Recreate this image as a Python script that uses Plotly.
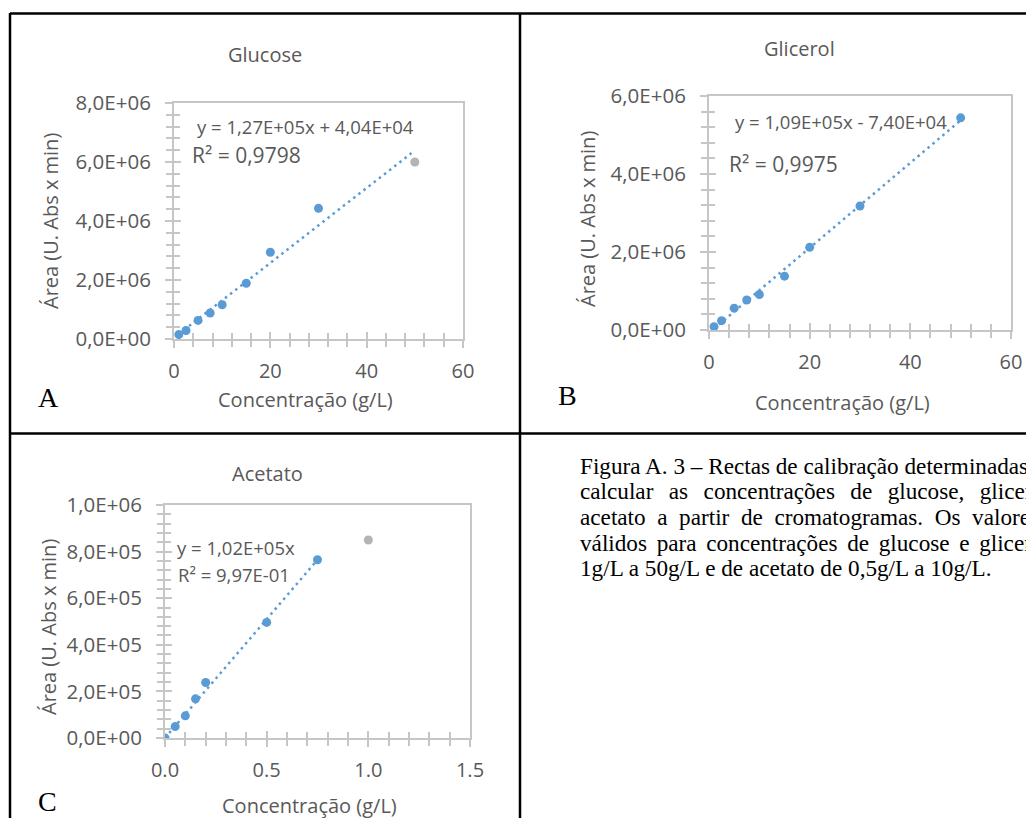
import plotly.graph_objects as go

# ---------------- data ----------------
GLU_X = [1, 2.5, 5, 7.5, 10, 15, 20, 30]
GLU_Y = [1.5e5, 2.9e5, 6.3e5, 8.8e5, 1.16e6, 1.89e6, 2.94e6, 4.43e6]
GLU_OUT_X = [50]
GLU_OUT_Y = [6.0e6]
GLU_SLOPE = 1.27e5
GLU_INTERCEPT = 4.04e4
GLU_TREND_X = [1, 49.3]

GLI_X = [1, 2.5, 5, 7.5, 10, 15, 20, 30, 50]
GLI_Y = [0.085e6, 0.24e6, 0.56e6, 0.77e6, 0.91e6, 1.38e6, 2.12e6, 3.18e6, 5.44e6]
GLI_SLOPE = 1.09e5
GLI_INTERCEPT = -7.40e4
GLI_TREND_X = [1, 50]

ACE_X = [0, 0.05, 0.1, 0.15, 0.2, 0.5, 0.75]
ACE_Y = [0, 4.9e4, 9.5e4, 1.68e5, 2.38e5, 4.96e5, 7.65e5]
ACE_OUT_X = [1.0]
ACE_OUT_Y = [8.5e5]
ACE_SLOPE = 1.02e6
ACE_INTERCEPT = 0
ACE_TREND_X = [0, 0.75]

GLU_YTICKS = [0, 2e6, 4e6, 6e6, 8e6]
GLU_YTEXT = ["0,0E+00", "2,0E+06", "4,0E+06", "6,0E+06", "8,0E+06"]
GLI_YTICKS = [0, 2e6, 4e6, 6e6]
GLI_YTEXT = ["0,0E+00", "2,0E+06", "4,0E+06", "6,0E+06"]
ACE_YTICKS = [0, 2e5, 4e5, 6e5, 8e5, 1e6]
ACE_YTEXT = ["0,0E+00", "2,0E+05", "4,0E+05", "6,0E+05", "8,0E+05", "1,0E+06"]
GLU_XTICKS = [0, 20, 40, 60]
GLU_XTEXT = ["0", "20", "40", "60"]
ACE_XTICKS = [0, 0.5, 1.0, 1.5]
ACE_XTEXT = ["0.0", "0.5", "1.0", "1.5"]

# caption lines (words) and the extra spacing of the justified lines
CAPTION = [
    "Figura A. 3 – Rectas de calibração determinadas para",
    "calcular as concentrações de glucose, glicerol e",
    "acetato a partir de cromatogramas. Os valores são",
    "válidos para concentrações de glucose e glicerol de",
    "1g/L a 50g/L e de acetato de 0,5g/L a 10g/L.",
]
CAPTION_GAP = [" ", "  \u2006", "  ", " \u2006", " "]

# ---------------- layout helpers ----------------
# the page body has an 8px margin, so the figure starts at (8, 8)
OFF = 8
W, H = 1034 - OFF, 818 - OFF
def px(x):
    return (x - OFF) / W
def py(y):
    return 1 - (y - OFF) / H

BLUE = "#5B9BD5"
GRAY = "#b4b4b4"
TXT = "#595959"
AXC = "#c6c6c6"
FONT = "Open Sans"

fig = go.Figure()

panels = [
    dict(xd=(174, 463), yd=(103, 339), xr=[0, 60], yr=[0, 8e6], xm=4, ym=4e5,
         yt=GLU_YTICKS, ytt=GLU_YTEXT, xt=GLU_XTICKS, xtt=GLU_XTEXT),
    dict(xd=(709, 1011), yd=(96, 330), xr=[0, 60], yr=[0, 6e6], xm=4, ym=4e5,
         yt=GLI_YTICKS, ytt=GLI_YTEXT, xt=GLU_XTICKS, xtt=GLU_XTEXT),
    dict(xd=(165, 470), yd=(505, 738), xr=[0, 1.5], yr=[0, 1e6], xm=0.1, ym=4e4,
         yt=ACE_YTICKS, ytt=ACE_YTEXT, xt=ACE_XTICKS, xtt=ACE_XTEXT),
]

layout = dict(
    width=W, height=H,
    margin=dict(l=0, r=0, t=0, b=0, pad=0, autoexpand=False),
    paper_bgcolor="white", plot_bgcolor="white", showlegend=False,
    font=dict(family=FONT, color=TXT),
)

for i, p in enumerate(panels, start=1):
    sfx = "" if i == 1 else str(i)
    osfx = str(i + 3)
    xname, yname = "x" + sfx, "y" + sfx
    common_x = dict(range=p["xr"], tickvals=p["xt"], showgrid=False, zeroline=False,
                    automargin=False,
                    tickcolor=AXC, tickwidth=1.5, ticklen=7,
                    minor=dict(ticks="", dtick=p["xm"], tick0=0, ticklen=6,
                               tickcolor=AXC, tickwidth=1.5, showgrid=False))
    common_y = dict(range=p["yr"], tickvals=p["yt"], showgrid=False, zeroline=False,
                    automargin=False,
                    tickcolor=AXC, tickwidth=1.5, ticklen=7,
                    minor=dict(ticks="", dtick=p["ym"], tick0=0, ticklen=6,
                               tickcolor=AXC, tickwidth=1.5, showgrid=False))
    xa = dict(common_x)
    xa.update(domain=[px(p["xd"][0]), px(p["xd"][1])], anchor=yname,
              ticks="outside", ticktext=p["xtt"], showline=True, mirror=True,
              linecolor=AXC, linewidth=2, ticklabelstandoff=6,
              tickfont=dict(family=FONT, size=20, color=TXT))
    xa["minor"] = dict(xa["minor"], ticks="outside")
    ya = dict(common_y)
    ya.update(domain=[py(p["yd"][1]), py(p["yd"][0])], anchor=xname,
              ticks="outside", ticktext=p["ytt"], showline=True, mirror=True,
              linecolor=AXC, linewidth=2, ticklabelstandoff=10,
              tickfont=dict(family=FONT, size=20.5, color=TXT))
    ya["minor"] = dict(ya["minor"], ticks="outside")
    xo = dict(common_x)
    xo.update(overlaying=xname, anchor=yname, ticks="inside", showticklabels=False,
              showline=False)
    xo["minor"] = dict(xo["minor"], ticks="inside")
    yo = dict(common_y)
    yo.update(overlaying=yname, anchor=xname, side="left", ticks="inside",
              showticklabels=False, showline=False)
    yo["minor"] = dict(yo["minor"], ticks="inside")
    layout["xaxis" + sfx] = xa
    layout["yaxis" + sfx] = ya
    layout["xaxis" + osfx] = xo
    layout["yaxis" + osfx] = yo
    fig.add_trace(go.Scatter(x=[None], y=[None], xaxis="x" + osfx, yaxis="y" + osfx,
                             mode="markers", showlegend=False, hoverinfo="skip"))

DOT = "2.5px,4px"

def add_panel(xs, ys, slope, intercept, tx, ax, ay, out_x=None, out_y=None):
    fig.add_trace(go.Scatter(
        x=tx, y=[slope * v + intercept for v in tx], mode="lines",
        line=dict(color=BLUE, width=2.5, dash=DOT), xaxis=ax, yaxis=ay,
        showlegend=False, hoverinfo="skip"))
    fig.add_trace(go.Scatter(
        x=xs, y=ys, mode="markers", marker=dict(color=BLUE, size=9),
        xaxis=ax, yaxis=ay, showlegend=False))
    if out_x is not None:
        fig.add_trace(go.Scatter(
            x=out_x, y=out_y, mode="markers", marker=dict(color=GRAY, size=9),
            xaxis=ax, yaxis=ay, showlegend=False))

add_panel(GLU_X, GLU_Y, GLU_SLOPE, GLU_INTERCEPT, GLU_TREND_X, "x", "y", GLU_OUT_X, GLU_OUT_Y)
add_panel(GLI_X, GLI_Y, GLI_SLOPE, GLI_INTERCEPT, GLI_TREND_X, "x2", "y2")
add_panel(ACE_X, ACE_Y, ACE_SLOPE, ACE_INTERCEPT, ACE_TREND_X, "x3", "y3", ACE_OUT_X, ACE_OUT_Y)

ann = []
def text(t, x, y, size, xanchor="center", family=FONT, color=TXT, angle=0):
    ann.append(dict(text=t, x=px(x), y=py(y), xref="paper", yref="paper",
                    xanchor=xanchor, yanchor="middle", showarrow=False,
                    textangle=angle, font=dict(family=family, size=size, color=color)))

# panel A
text("Glucose", 265, 55, 20)
text("Área (U. Abs x min)", 50, 221, 20, angle=-90)
text("Concentração (g/L)", 305, 399, 20)
text("A", 48, 397, 28, family="Liberation Serif", color="black")
text("y = 1,27E+05x + 4,04E+04", 195, 126, 18.5, xanchor="left")
text("R² = 0,9798", 190, 155, 21, xanchor="left")
# panel B
text("Glicerol", 799, 48, 20)
text("Área (U. Abs x min)", 587, 219, 20, angle=-90)
text("Concentração (g/L)", 842, 402, 20)
text("B", 567, 395, 28, family="Liberation Serif", color="black")
text("y = 1,09E+05x - 7,40E+04", 733, 122, 18.5, xanchor="left")
text("R² = 0,9975", 727, 164, 21, xanchor="left")
# panel C
text("Acetato", 267, 473, 20)
text("Área (U. Abs x min)", 48, 627, 20, angle=-90)
text("Concentração (g/L)", 309, 805, 20)
text("C", 47, 801, 28, family="Liberation Serif", color="black")
text("y = 1,02E+05x", 175, 547, 18.5, xanchor="left")
text("R² = 9,97E-01", 176, 574, 18.5, xanchor="left")

# caption
for k, line in enumerate(CAPTION):
    text(CAPTION_GAP[k].join(line.split(" ")), 578, 466 + 25.5 * k, 23.2,
         xanchor="left", family="Liberation Serif", color="black")

layout["annotations"] = ann

# frame lines
shapes = []
def seg(x0, y0, x1, y1):
    shapes.append(dict(type="line", xref="paper", yref="paper",
                       x0=px(x0), y0=py(y0), x1=px(x1), y1=py(y1),
                       line=dict(color="black", width=2.5)))
seg(10, 13.5, 1040, 13.5)
seg(10, 433.5, 1040, 433.5)
seg(10, 13, 10, 830)
seg(520, 13, 520, 830)
layout["shapes"] = shapes

fig.update_layout(**layout)
fig.write_html("out.html")
